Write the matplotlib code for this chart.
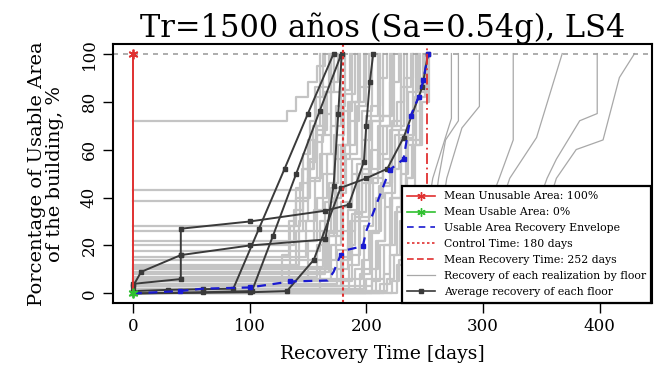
import numpy as np
import matplotlib
matplotlib.use('Agg')
import matplotlib.pyplot as plt

plt.rcParams['font.family'] = 'DejaVu Serif'

# Recovery of each realization by floor (days, % usable area)
runs_days = [
    [0, 132, 140, 150, 158, 165],
    [0, 145, 155, 163, 170, 176],
    [0, 150, 160, 170, 178, 186],
    [0, 140, 150, 157, 166, 172],
    [0, 155, 163, 172, 181, 190],
    [0, 160, 168, 176, 184, 195],
    [0, 135, 143, 150, 157, 163],
    [0, 165, 175, 183, 192, 200],
    [0, 170, 178, 188, 196, 205],
    [0, 175, 184, 192, 200, 210],
    [0, 180, 188, 196, 205, 214],
    [0, 185, 194, 202, 210, 220],
    [0, 190, 198, 206, 214, 224],
    [0, 195, 203, 211, 220, 230],
    [0, 200, 208, 216, 225, 235],
    [0, 205, 212, 220, 230, 240],
    [0, 150, 158, 166, 174, 182],
    [0, 158, 165, 173, 180, 188],
    [0, 168, 174, 182, 190, 198],
    [0, 178, 186, 194, 202, 212],
    [0, 142, 150, 158, 165, 170],
    [0, 188, 195, 203, 212, 222],
    [0, 198, 205, 213, 222, 232],
    [0, 208, 215, 222, 230, 243],
    [0, 212, 220, 226, 234, 246],
    [0, 138, 146, 154, 160, 168],
    [0, 148, 156, 162, 170, 178],
    [0, 163, 170, 178, 186, 193],
    [0, 205, 210, 216, 222, 228, 236, 244],
    [0, 215, 220, 225, 230, 236, 242, 250],
    [0, 218, 224, 229, 234, 240, 246, 252],
    [0, 196, 202, 208, 214, 222, 230, 238],
    [0, 184, 190, 196, 204, 212, 220, 228],
    [0, 174, 180, 188, 196, 204, 212, 218],
    [0, 128, 134, 140, 146, 152, 156, 160],
    [0, 134, 140, 146, 152, 158, 164, 170],
    [0, 222, 228, 232, 238, 242, 248, 254],
    [0, 160, 166, 172, 178, 186, 194, 202],
    [0, 226, 231, 235, 239, 243, 246, 249],
    [0, 190, 200, 210, 218, 226, 232, 240],
]
runs_vals = [
    [72, 76, 82, 88, 95, 100],
    [43, 52, 63, 75, 88, 100],
    [38.6, 47, 58, 70, 85, 100],
    [28, 40, 55, 68, 84, 100],
    [22, 35, 50, 66, 83, 100],
    [17.7, 30, 46, 62, 80, 100],
    [10, 28, 46, 64, 82, 100],
    [8, 24, 42, 58, 78, 100],
    [6, 20, 38, 56, 76, 100],
    [4, 18, 35, 54, 74, 100],
    [3, 15, 33, 52, 72, 100],
    [2, 12, 30, 50, 70, 100],
    [1, 10, 28, 48, 70, 100],
    [0.5, 8, 25, 45, 68, 100],
    [0, 6, 22, 42, 66, 100],
    [0, 5, 20, 40, 65, 100],
    [5, 22, 40, 58, 78, 100],
    [7, 20, 38, 56, 76, 100],
    [9, 25, 44, 62, 80, 100],
    [3, 14, 30, 50, 72, 100],
    [12, 30, 48, 66, 84, 100],
    [5, 16, 32, 52, 74, 100],
    [2, 10, 26, 46, 70, 100],
    [1, 6, 20, 40, 64, 100],
    [0, 4, 16, 36, 62, 100],
    [20, 35, 52, 70, 86, 100],
    [15, 30, 48, 66, 84, 100],
    [11, 26, 44, 62, 80, 100],
    [3, 10, 22, 36, 52, 68, 84, 100],
    [0, 8, 20, 34, 50, 66, 82, 100],
    [1, 6, 16, 30, 48, 64, 84, 100],
    [6, 14, 26, 40, 56, 72, 86, 100],
    [10, 20, 32, 46, 60, 74, 88, 100],
    [14, 24, 36, 50, 64, 78, 90, 100],
    [4, 16, 30, 44, 58, 72, 86, 100],
    [2, 12, 26, 40, 56, 70, 84, 100],
    [0, 5, 14, 28, 44, 62, 80, 100],
    [1, 10, 24, 40, 56, 72, 86, 100],
    [0, 12, 30, 48, 62, 76, 90, 100],
    [26, 34, 46, 58, 70, 80, 90, 100],
]

# late realizations (right side of the plot)
late_days = [
    [240, 248, 257, 273, 273],
    [247, 255, 262, 268, 279, 279],
    [252, 260, 269, 282, 297, 297],
    [280, 292, 314, 326, 326],
    [290, 305, 323, 346, 368],
    [320, 338, 355, 363, 383, 398, 398],
    [330, 348, 363, 380, 403, 417, 430],
]
late_vals = [
    [0, 20, 48, 73, 100],
    [0, 22, 48, 64, 72, 100],
    [0, 20, 48, 69, 78, 100],
    [0, 20, 48, 64, 100],
    [0, 22, 48, 65, 100],
    [0, 25, 48, 56, 72, 75, 100],
    [0, 25, 48, 60, 64, 90, 100],
]

# average recovery of each floor
avg_days = [
    [0, 30, 60, 86, 108, 130, 150, 172],
    [0, 7, 41, 100, 165, 172, 176, 179],
    [0, 41, 41, 41, 100, 165, 185, 198, 200, 203, 206],
    [0, 60, 102, 120, 140, 160, 178],
    [0, 100, 132, 155, 178, 200, 218, 232, 248, 253],
]
avg_vals = [
    [1, 1.5, 1.8, 2, 27, 52, 75, 100],
    [3, 9, 16, 20, 22.5, 45, 75, 100],
    [4, 6, 16, 27, 30, 34.5, 37, 55, 70, 88, 100],
    [0, 0.5, 1, 24, 50, 76, 99],
    [0, 0.5, 1, 14, 44, 48, 52, 65, 86, 100],
]

# usable area recovery envelope
env_days = [0, 20, 40, 60, 100, 135, 167, 172, 178, 182, 197, 200, 220, 232, 238, 245, 249, 253]
env_vals = [0, 0.5, 1, 2, 2.5, 5, 5.4, 9, 16, 18, 19.7, 26, 51.5, 56, 74, 82, 89, 100]

control_time = 180
mean_recovery = 252

fig = plt.figure(figsize=(6.54, 3.76), dpi=100)
ax = fig.add_axes([0.173, 0.194, 0.824, 0.689])

gray = '#c4c4c4'
for d, v in zip(runs_days, runs_vals):
    ax.plot(d, v, color=gray, lw=1.6, drawstyle='steps-post')
for d, v in zip(late_days, late_vals):
    ax.plot(d, v, color='#a8a8a8', lw=0.9)

ax.axhline(100, color='#a0a0a0', lw=1.2, ls=(0, (3, 3)))

for d, v in zip(avg_days, avg_vals):
    ax.plot(d, v, color='#3a3a3a', lw=1.4, marker='s', ms=3.5)

ax.plot(env_days, env_vals, color='#1a1ad0', lw=1.6, ls=(0, (4, 3)),
        marker='s', ms=3, markevery=[2, 4, 5, 8, 10, 12, 13, 14, 15, 16, 17])

ax.plot([0, 0], [0, 100], color='#e03030', lw=1.4)
ax.plot([0], [100], color='#e03030', marker=(6, 2, 0), ms=7, mew=1.3)
ax.plot([0], [0], color='#30c030', marker=(6, 2, 0), ms=7, mew=1.3)
ax.axvline(control_time, color='#e03030', lw=1.5, ls=(0, (1.5, 1.5)))
ax.axvline(mean_recovery, color='#e03030', lw=1.3, ls=(0, (6, 2, 1, 2)))

# legend handles
h = [
    plt.Line2D([], [], color='#e03030', marker=(6, 2, 0), ms=6, lw=1.2),
    plt.Line2D([], [], color='#30c030', marker=(6, 2, 0), ms=6, lw=1.2),
    plt.Line2D([], [], color='#1a1ad0', ls=(0, (4, 3)), lw=1.2),
    plt.Line2D([], [], color='#e03030', ls=(0, (1.5, 1.5)), lw=1.2),
    plt.Line2D([], [], color='#e03030', ls=(0, (4, 2)), lw=1.2),
    plt.Line2D([], [], color='#a8a8a8', lw=0.9),
    plt.Line2D([], [], color='#3a3a3a', marker='s', ms=3.5, lw=1.2),
]
labels = [
    'Mean Unusable Area: 100%',
    'Mean Usable Area: 0%',
    'Usable Area Recovery Envelope',
    'Control Time: 180 days',
    'Mean Recovery Time: 252 days',
    'Recovery of each realization by floor',
    'Average recovery of each floor',
]
leg = ax.legend(h, labels, loc='lower right', fontsize=7.8, frameon=True,
                fancybox=False, edgecolor='black', framealpha=1,
                borderaxespad=0.05, handlelength=2.6, labelspacing=0.55,
                borderpad=0.5)
leg.get_frame().set_linewidth(1.6)

ax.set_xlim(-17, 445)
ax.set_ylim(-4, 104)
ax.set_xticks([0, 100, 200, 300, 400])
ax.set_yticks([0, 20, 40, 60, 80, 100])
ax.tick_params(labelsize=12, direction='out', length=7, width=1, pad=4)
for lab in ax.get_yticklabels():
    lab.set_rotation(90)
    lab.set_va('center')
for s in ax.spines.values():
    s.set_linewidth(1.5)

ax.set_xlabel('Recovery Time [days]', fontsize=13.5, labelpad=7)
ax.set_ylabel('Porcentage of Usable Area\nof the building, %', fontsize=14,
              linespacing=1.0, labelpad=12)
ax.set_title('Tr=1500 años (Sa=0.54g), LS4', fontsize=22, pad=2)

fig.savefig('out.png', dpi=100)
